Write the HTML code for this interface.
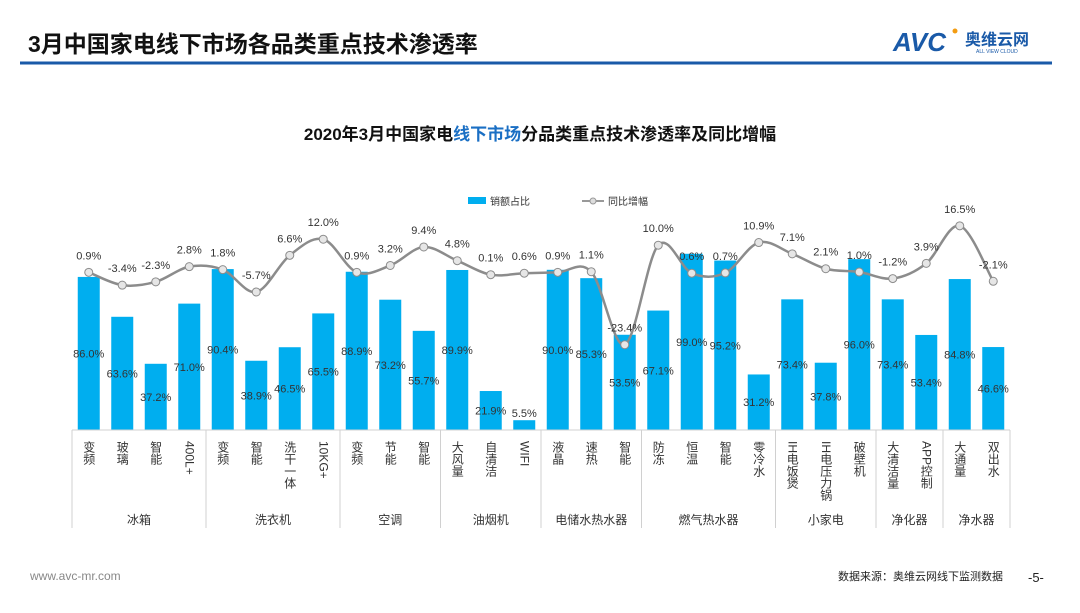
<!DOCTYPE html>
<html><head><meta charset="utf-8">
<style>
body{margin:0;width:1080px;height:608px;background:#fff;overflow:hidden;font-family:"Liberation Sans","Noto Sans CJK SC",sans-serif;}
svg text{font-family:"Liberation Sans","Noto Sans CJK SC",sans-serif;}
</style></head>
<body>
<svg id="c" width="1080" height="608" xmlns="http://www.w3.org/2000/svg">
<text x="28" y="52" font-size="23" font-weight="bold" fill="#111">3月中国家电线下市场各品类重点技术渗透率</text>
<line x1="20" y1="63" x2="1052" y2="63" stroke="#1a5aa8" stroke-width="3"/>
<g>
<text x="893" y="51" font-size="26" font-weight="bold" fill="#1a5aa8" font-style="italic">AVC</text>
<circle cx="955" cy="31" r="2.5" fill="#f39c12"/>
<text x="965" y="45" font-size="16" font-weight="bold" fill="#1a5aa8">奥维云网</text>
<text x="976" y="53" font-size="5" fill="#1a5aa8">ALL VIEW CLOUD</text>
</g>
<text x="540" y="140" font-size="17" font-weight="bold" text-anchor="middle" fill="#111">2020年3月中国家电<tspan fill="#1a6fc4">线下市场</tspan>分品类重点技术渗透率及同比增幅</text>
<g>
<rect x="468" y="197" width="18" height="7" fill="#00aeef"/>
<text x="490" y="205" font-size="10" fill="#333">销额占比</text>
<line x1="582" y1="201" x2="604" y2="201" stroke="#999" stroke-width="2"/>
<circle cx="593" cy="201" r="3" fill="#ddd" stroke="#999"/>
<text x="608" y="205" font-size="10" fill="#333">同比增幅</text>
</g>
<g id="plot"></g>
<text x="30" y="580" font-size="12" fill="#888">www.avc-mr.com</text>
<text x="838" y="580" font-size="11" fill="#222">数据来源：奥维云网线下监测数据</text>
<text x="1028" y="582" font-size="13" fill="#222">-5-</text>
</svg>
<script>
const items=["变频","玻璃","智能","400L+","变频","智能","洗干一体","10KG+","变频","节能","智能","大风量","自清洁","WIFI","液晶","速热","智能","防冻","恒温","智能","零冷水","IH电饭煲","IH电压力锅","破壁机","大清洁量","APP控制","大通量","双出水"];
const groups=["冰箱","洗衣机","空调","油烟机","电储水热水器","燃气热水器","小家电","净化器","净水器"];
const groupSizes=[4,4,3,3,3,4,3,2,2];
const share=[86.0,63.6,37.2,71.0,90.4,38.9,46.5,65.5,88.9,73.2,55.7,89.9,21.9,5.5,90.0,85.3,53.5,67.1,99.0,95.2,31.2,73.4,37.8,96.0,73.4,53.4,84.8,46.6];
const yoy=[0.9,-3.4,-2.3,2.8,1.8,-5.7,6.6,12.0,0.9,3.2,9.4,4.8,0.1,0.6,0.9,1.1,-23.4,10.0,0.6,0.7,10.9,7.1,2.1,1.0,-1.2,3.9,16.5,-2.1];

const NS="http://www.w3.org/2000/svg",g=document.getElementById('plot');
const X0=72,SLOT=33.5,BASE=430;
const xc=i=>X0+SLOT*(i+0.5);
const yBar=v=>BASE-v*1.78;
const yLine=v=>275-v*2.98;
function mk(t,a,txt){const e=document.createElementNS(NS,t);for(const k in a)e.setAttribute(k,a[k]);if(txt!=null)e.textContent=txt;g.appendChild(e);return e;}

share.forEach((v,i)=>{
 const r=mk('rect',{x:xc(i)-11,y:yBar(v),width:22,height:BASE-yBar(v),fill:'#00aeef'});
 
 
 let ly=(yBar(v)+BASE)/2+4; if(ly>BASE-8) ly=yBar(v)-3;
 const t=mk('text',{x:xc(i),y:ly,'font-size':11,'text-anchor':'middle',fill:'#333'},v.toFixed(1)+'%');
 
 
});
// smooth line
const pts=yoy.map((v,i)=>[xc(i),yLine(v)]);
let d='M'+pts[0][0]+','+pts[0][1];
for(let i=0;i<pts.length-1;i++){
 const p0=pts[i-1]||pts[i],p1=pts[i],p2=pts[i+1],p3=pts[i+2]||p2;
 const c1=[p1[0]+(p2[0]-p0[0])/6,p1[1]+(p2[1]-p0[1])/6],c2=[p2[0]-(p3[0]-p1[0])/6,p2[1]-(p3[1]-p1[1])/6];
 d+=` C${c1[0]},${c1[1]} ${c2[0]},${c2[1]} ${p2[0]},${p2[1]}`;
}
const ln=mk('path',{d:d,fill:'none',stroke:'#8c8c8c','stroke-width':2.5});


pts.forEach((p,i)=>{
 const c=mk('circle',{cx:p[0],cy:p[1],r:4,fill:'#e6e6e6',stroke:'#8c8c8c','stroke-width':1});
 
 
 const t=mk('text',{x:p[0],y:p[1]-13,'font-size':11,'text-anchor':'middle',fill:'#333'},yoy[i].toFixed(1)+'%');
 
 
});
// axis
const ax=mk('line',{x1:X0,y1:BASE,x2:X0+SLOT*28,y2:BASE,stroke:'#d0d0d0'});


let idx=0;
const sep=k=>{const l=mk('line',{x1:X0+SLOT*k,y1:BASE,x2:X0+SLOT*k,y2:528,stroke:'#d0d0d0'});};
sep(0);
groupSizes.forEach((n,gi)=>{
 const t=mk('text',{x:X0+SLOT*(idx+n/2),y:524,'font-size':12,'text-anchor':'middle',fill:'#333'},groups[gi]);
 
 
 idx+=n; sep(idx);
});
items.forEach((s,i)=>{
 const t=mk('text',{x:xc(i),y:441,'font-size':12,fill:'#333','writing-mode':'tb',style:'writing-mode:vertical-rl;text-orientation:mixed;'},s);
 
 
});
</script>
</body></html>
